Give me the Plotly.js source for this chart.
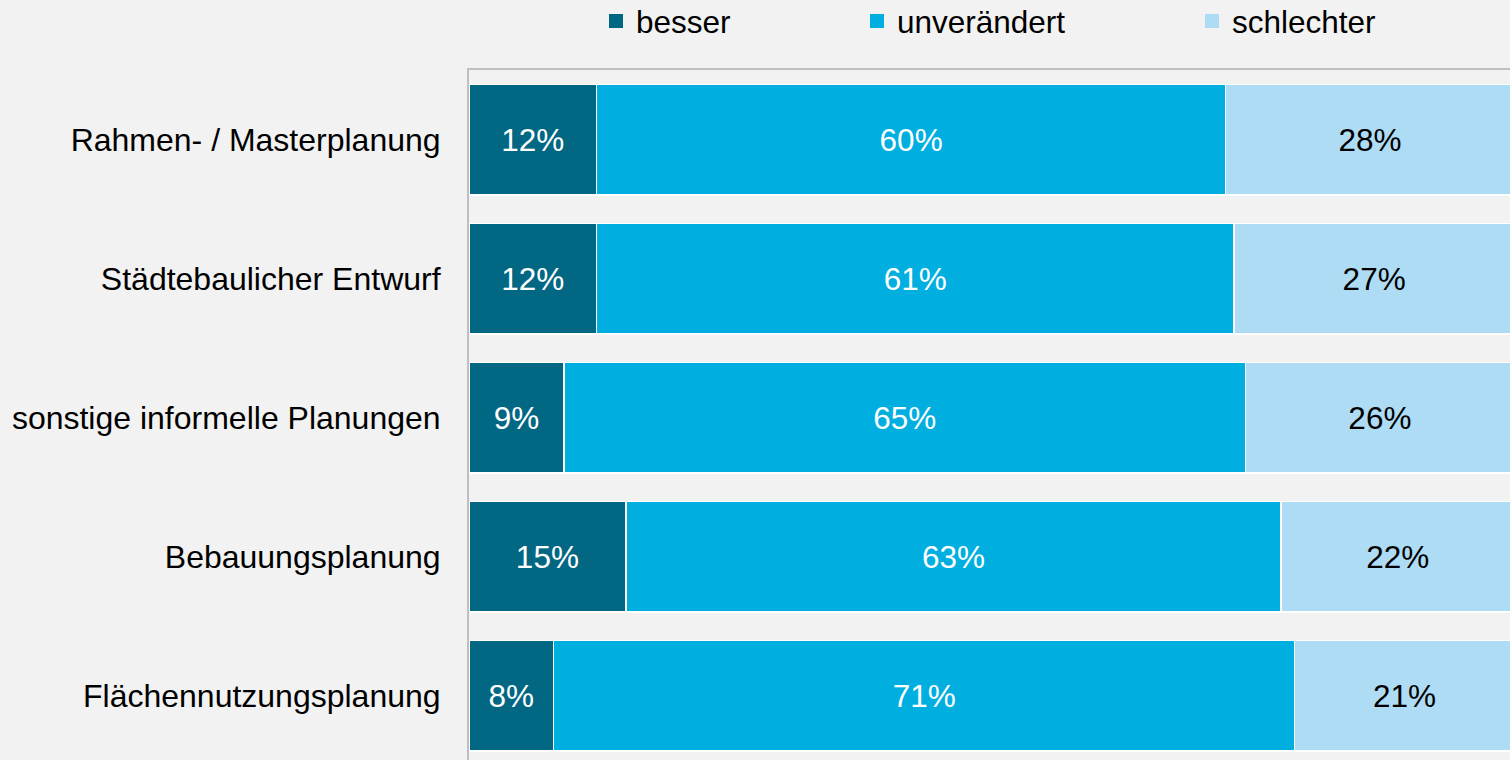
<!DOCTYPE html>
<html>
<head>
<meta charset="utf-8">
<script src="https://cdn.plot.ly/plotly-3.0.1.min.js"></script>
<style>
  html, body { margin: 0; padding: 0; background: #f2f2f2; }
  #chart { width: 1510px; height: 760px; }
</style>
</head>
<body>
<div id="chart"></div>
<script>
// Categories (top to bottom)
var categories = [
  "Rahmen- / Masterplanung",
  "Städtebaulicher Entwurf",
  "sonstige informelle Planungen",
  "Bebauungsplanung",
  "Flächennutzungsplanung"
];
// Shares in percent
var besser       = [12.2, 12.2, 9.1, 15.0, 8.1];
var unveraendert = [60.2, 61.0, 65.2, 62.7, 70.9];
var schlechter   = [27.6, 26.8, 25.7, 22.3, 21.0];

var seriesNames = ["besser", "unverändert", "schlechter"];
var seriesColors = ["#026783", "#00aedf", "#aedcf5"];
var textColors = ["#ffffff", "#ffffff", "#000000"];
var seriesData = [besser, unveraendert, schlechter];
var legendIds = ["legend", "legend2", "legend3"];

var FONT = "Liberation Sans, Arial, sans-serif";

var traces = [];
seriesData.forEach(function (vals, i) {
  traces.push({
    type: "bar",
    orientation: "h",
    name: seriesNames[i],
    legendgroup: seriesNames[i],
    showlegend: false,
    x: vals,
    y: categories,
    marker: { color: seriesColors[i], line: { color: "#ffffff", width: 1.5 } },
    texttemplate: "%{x:.0f}%",
    textposition: "inside",
    insidetextanchor: "middle",
    textangle: 0,
    constraintext: "none",
    textfont: { family: FONT, size: 31.5, color: textColors[i] },
    hoverinfo: "none"
  });
});
// legend entries (square swatches)
seriesData.forEach(function (vals, i) {
  traces.push({
    type: "scatter",
    mode: "markers",
    name: seriesNames[i],
    legendgroup: seriesNames[i],
    legend: legendIds[i],
    showlegend: true,
    x: [null],
    y: [null],
    marker: { symbol: "square", size: 14, color: seriesColors[i] },
    hoverinfo: "none"
  });
});

function legendAt(xpx) {
  return {
    orientation: "h",
    xref: "container", yref: "container",
    x: xpx / 1510, xanchor: "left",
    y: 1 - 21 / 760, yanchor: "middle",
    bgcolor: "rgba(0,0,0,0)",
    borderwidth: 0,
    itemwidth: 30,
    font: { family: FONT, size: 31.5, color: "#000000" }
  };
}

var layout = {
  width: 1510,
  height: 760,
  paper_bgcolor: "#f2f2f2",
  plot_bgcolor: "#f2f2f2",
  margin: { l: 469, r: 0, t: 70, b: 0, pad: 0 },
  barmode: "stack",
  bargap: 0.205,
  showlegend: true,
  legend: legendAt(596),
  legend2: legendAt(857),
  legend3: legendAt(1192),
  xaxis: {
    range: [0, 99.6],
    side: "top",
    showline: true,
    linecolor: "#bfbfbf",
    linewidth: 2,
    showgrid: false,
    zeroline: false,
    showticklabels: false,
    ticks: "",
    fixedrange: true
  },
  yaxis: {
    type: "category",
    range: [4.464, -0.5],
    showline: true,
    linecolor: "#bfbfbf",
    linewidth: 2,
    layer: "below traces",
    showgrid: false,
    zeroline: false,
    ticks: "",
    ticklabelstandoff: 20,
    tickfont: { family: FONT, size: 32, color: "#000000" },
    fixedrange: true
  },
  font: { family: FONT, color: "#000000" }
};

Plotly.newPlot("chart", traces, layout, { displayModeBar: false, staticPlot: true });
</script>
</body>
</html>
